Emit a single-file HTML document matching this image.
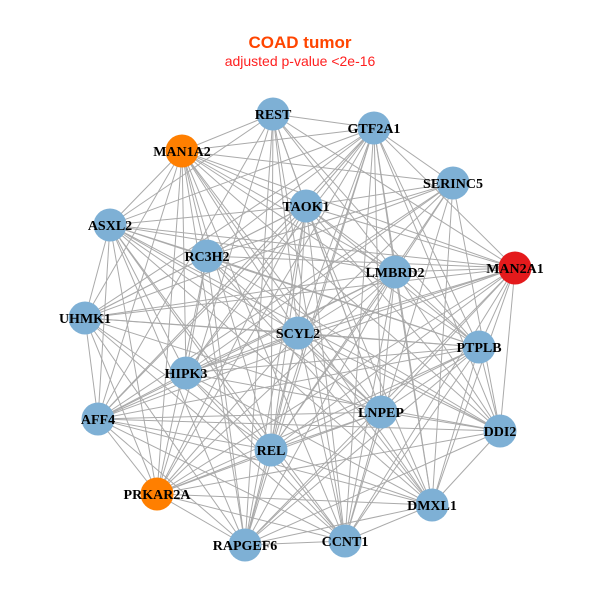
<!DOCTYPE html>
<html><head><meta charset="utf-8"><style>
html,body{margin:0;padding:0;background:#fff;width:600px;height:600px;overflow:hidden}
</style></head><body>
<svg id="s" width="600" height="600" xmlns="http://www.w3.org/2000/svg">
<rect width="600" height="600" fill="#fff"/>
<text x="300" y="48" text-anchor="middle" font-family="Liberation Sans, sans-serif" font-weight="bold" font-size="17" fill="#FF4500">COAD tumor</text>
<text x="300" y="66" text-anchor="middle" font-family="Liberation Sans, sans-serif" font-size="14" fill="#FF2020">adjusted p-value &lt;2e-16</text>
<g id="e" stroke="#aaaaaa" stroke-width="1"></g>
<g id="n"></g>
</svg>
<script>
var N=[["REST",273,114,"#7EB0D5"],["GTF2A1",374,128,"#7EB0D5"],["MAN1A2",182,151,"#FF7F00"],["SERINC5",453,183,"#7EB0D5"],["TAOK1",306,206,"#7EB0D5"],["ASXL2",110,225,"#7EB0D5"],["RC3H2",207,256,"#7EB0D5"],["LMBRD2",395,272,"#7EB0D5"],["MAN2A1",515,268,"#E41A1C"],["UHMK1",85,318,"#7EB0D5"],["SCYL2",298,333,"#7EB0D5"],["PTPLB",479,347,"#7EB0D5"],["HIPK3",186,373,"#7EB0D5"],["AFF4",98,419,"#7EB0D5"],["LNPEP",381,412,"#7EB0D5"],["DDI2",500,431,"#7EB0D5"],["REL",271,450,"#7EB0D5"],["PRKAR2A",157,494,"#FF7F00"],["DMXL1",432,505,"#7EB0D5"],["CCNT1",345,541,"#7EB0D5"],["RAPGEF6",245,545,"#7EB0D5"]];
var ns="http://www.w3.org/2000/svg",e=document.getElementById("e"),g=document.getElementById("n");
for(var i=0;i<N.length;i++)for(var j=i+1;j<N.length;j++){if((i*7+j*3)%9==0)continue;var l=document.createElementNS(ns,"line");l.setAttribute("x1",N[i][1]);l.setAttribute("y1",N[i][2]);l.setAttribute("x2",N[j][1]);l.setAttribute("y2",N[j][2]);e.appendChild(l);}
N.forEach(function(d){var c=document.createElementNS(ns,"circle");c.setAttribute("cx",d[1]);c.setAttribute("cy",d[2]);c.setAttribute("r",16.5);c.setAttribute("fill",d[3]);g.appendChild(c);});
N.forEach(function(d){var t=document.createElementNS(ns,"text");t.setAttribute("x",d[1]);t.setAttribute("y",d[2]+5);t.setAttribute("text-anchor","middle");t.setAttribute("font-family","Liberation Serif, serif");t.setAttribute("font-weight","bold");t.setAttribute("font-size","14");t.textContent=d[0];g.appendChild(t);});
</script>
</body></html>
